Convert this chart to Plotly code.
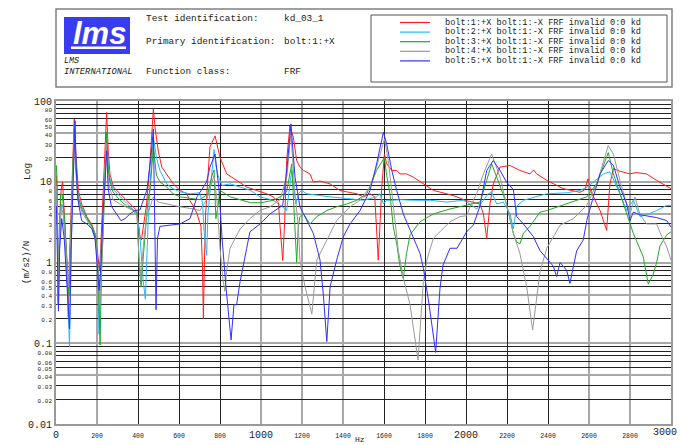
import plotly.graph_objects as go

# ---------------------------------------------------------------- data
series_names = [
    "bolt:1:+X bolt:1:-X FRF invalid 0:0 kd",
    "bolt:2:+X bolt:1:-X FRF invalid 0:0 kd",
    "bolt:3:+X bolt:1:-X FRF invalid 0:0 kd",
    "bolt:4:+X bolt:1:-X FRF invalid 0:0 kd",
    "bolt:5:+X bolt:1:-X FRF invalid 0:0 kd",
]
series_colors = ["#ff1e1e", "#22b8ff", "#22a822", "#9a9a9a", "#3030ff"]

# bolt:1 (Hz, (m/s2)/N)
freq_b1 = [3, 8, 12, 18, 25, 32, 38, 45, 52, 60, 65, 72, 77, 84, 89, 92, 98, 109, 125, 150,
           174, 190, 203, 212, 218, 223, 239, 247, 255, 263, 280, 312, 345, 377, 394, 410, 417,
           426, 442, 459, 475, 483, 499, 516, 540, 572, 605, 638, 654, 670, 688, 707, 714, 719,
           724, 730, 741, 751, 776, 800, 833, 881, 930, 979, 1028, 1060, 1085, 1093, 1106,
           1115, 1125, 1141, 1158, 1174, 1190, 1207, 1239, 1255, 1288, 1337, 1385, 1418, 1467,
           1499, 1532, 1555, 1564, 1572, 1580, 1589, 1602, 1613, 1638, 1662, 1678, 1710, 1743,
           1792, 1841, 1906, 1956, 1995, 2036, 2068, 2085, 2101, 2117, 2133, 2166, 2215, 2263,
           2312, 2330, 2345, 2394, 2475, 2556, 2580, 2595, 2610, 2654, 2686, 2702, 2719, 2751,
           2800, 2830, 2881, 2930, 2979, 3000]
val_b1 = [12, 3, 0.6, 3, 8, 10, 6, 2.5, 1.2, 0.21, 1, 3, 5.9, 20, 60, 35, 18.3, 7.8, 5.3, 3.7,
          3.0, 2.3, 1.3, 0.8, 1.5, 2.8, 30, 72, 24, 12.5, 8.6, 7.1, 5.9, 4.9, 4.4, 2.1, 1.9,
          2.76, 5.3, 18.3, 80, 47, 24, 15.2, 12.5, 9.4, 7.8, 7.1, 5.8, 5.0, 4.0, 2.8, 1.0, 0.2,
          1.0, 4, 11.4, 27, 37, 20, 12.5, 10.4, 8.6, 7.8, 7.1, 6.5, 5.5, 2.8, 1.06,
          3, 18.3, 49, 35.5, 18.3, 15.2, 13.8, 12.5, 9.9, 10.2, 9.4, 7.8, 7.5, 7.1,
          6.5, 7.1, 6.5, 2.76, 1.07, 2.76, 8.6, 22, 16.7, 13.8, 13.8, 12.5, 12.5, 11.4,
          9.4, 7.8, 7.1, 6.5, 5.9, 5.6, 5.3, 4.0, 1.98, 5.3, 9.4, 15.2, 15.9, 13.8,
          12.5, 14, 12.5, 10.4, 8.2, 7.4, 8, 10.9, 7.5, 4.4, 2.5, 9.4, 14.5, 13.5,
          12.5, 13.0, 12.5, 10.4, 8.7, 8.2]

# bolt:2
freq_b2 = [3, 8, 13, 20, 28, 36, 45, 55, 66, 72, 80, 89, 94, 102, 109, 125, 150, 174, 190, 200,
           210, 220, 229, 239, 247, 255, 263, 280, 312, 345, 377, 395, 410, 425, 436, 444, 449,
           459, 475, 490, 507, 540, 571, 605, 654, 700, 715, 722, 735, 741, 751, 771, 780, 790,
           810, 850, 898, 950, 995, 1060, 1100, 1125, 1150, 1160, 1170, 1182, 1198, 1223, 1255,
           1337, 1418, 1499, 1564, 1580, 1597, 1613, 1645, 1678, 1743, 1824, 1906, 1987, 2020,
           2052, 2085, 2109, 2125, 2150, 2182, 2215, 2231, 2247, 2280, 2394, 2491, 2556, 2589,
           2670, 2702, 2751, 2784, 2816, 2849, 2881, 2930, 2979, 3000]
val_b2 = [8, 3, 0.5, 3, 5.3, 4.5, 2, 0.6, 0.09, 1, 8, 52, 25, 9, 6.5, 4.9, 3.5, 2.8, 2.3, 1.3,
          0.13, 1.5, 3, 15, 39, 16, 11, 8, 6.5, 5.4, 4.5, 4.0, 2.0, 0.6, 0.35, 1.5, 3,
          10, 36, 20, 13.8, 9.4, 8.2, 7.5, 7.1, 7.3, 5.5, 2.5, 1.23, 4, 8, 25, 16, 12,
          9.0, 9.4, 8.6, 7.8, 6.5, 5.9, 5.0, 4.4, 13.8, 8, 5.3, 7.1, 7.8, 7.1, 6.9,
          6.5, 6.2, 5.9, 6.5, 7.1, 5.3, 5.9, 5.9, 6.0, 5.9, 5.9, 5.6, 5.9, 5.3,
          4.6, 5.9, 7.1, 7.4, 5.3, 5.6, 4.0, 2.6, 5.0, 5.9, 7.1, 7.3, 7.8, 8.5,
          12.5, 13.3, 7.1, 4.4, 5.9, 3.7, 3.9, 4.4, 5.1, 5.1]

# bolt:3
freq_b3 = [2, 6, 10, 15, 22, 30, 40, 50, 63, 70, 80, 89, 95, 107, 127, 151, 176, 195, 205, 215,
           222, 229, 239, 247, 255, 263, 278, 312, 345, 377, 395, 405, 415, 426, 434, 449, 459,
           475, 490, 507, 540, 571, 605, 654, 702, 740, 761, 771, 780, 790, 800, 850, 898, 950,
           1000, 1060, 1093, 1125, 1150, 1160, 1166, 1174, 1182, 1190, 1207, 1239, 1272, 1321,
           1369, 1418, 1467, 1516, 1564, 1602, 1613, 1629, 1645, 1662, 1678, 1694, 1710, 1727,
           1776, 1841, 1922, 2003, 2068, 2101, 2125, 2150, 2198, 2231, 2247, 2263, 2280, 2312,
           2361, 2394, 2491, 2589, 2638, 2694, 2719, 2751, 2784, 2816, 2865, 2889, 2912, 2930,
           2946, 2979, 3000]
val_b3 = [16, 8, 0.33, 2, 7, 7, 4, 1.5, 0.4, 1.5, 8, 45, 20, 6.5, 4.5, 3.5, 2.8, 2, 0.8, 0.095,
          0.8, 2, 12, 41, 14, 10, 7.5, 5.9, 5.0, 4.4, 4.2, 1.0, 0.5, 1.2, 2, 6, 8,
          27, 12, 10, 8.6, 7.1, 6.5, 6.2, 6.0, 7, 12, 14, 3.5, 5, 7.8, 6.5, 6.0, 5.5,
          5.5, 5.9, 6.5, 7.5, 16.7, 6, 2.3, 1.0, 2.8, 3.7, 4.0, 3.0, 3.7, 4.4,
          4.9, 5.3, 5.9, 7.1, 13.8, 20, 12, 7.1, 2.8, 1.7, 0.9, 0.63, 1.3, 2.2,
          3.2, 4.0, 4.6, 5.1, 5.6, 10.4, 16.7, 11.4, 5.3, 2.3, 1.8, 1.7, 2.3, 2.8,
          4.2, 4.4, 5.3, 6.5, 9.5, 23, 12.5, 7.1, 4.0, 2.3, 1.17, 0.54, 0.7, 1.0,
          1.6, 2.2, 2.4]

# bolt:4
freq_b4 = [2, 6, 10, 15, 24, 35, 48, 60, 70, 80, 89, 95, 107, 127, 151, 176, 195, 205, 215,
           225, 234, 244, 255, 278, 312, 345, 377, 395, 405, 415, 425, 440, 459, 475, 499, 540,
           605, 670, 702, 735, 761, 771, 785, 800, 815, 824, 833, 849, 898, 946, 995, 1044, 1093,
           1127, 1146, 1166, 1182, 1190, 1215, 1248, 1272, 1304, 1337, 1369, 1401, 1434, 1483,
           1532, 1564, 1602, 1621, 1638, 1654, 1670, 1694, 1727, 1766, 1780, 1792, 1810, 1841,
           1873, 1922, 1971, 2003, 2020, 2052, 2085, 2125, 2166, 2198, 2231, 2263, 2296, 2325,
           2345, 2361, 2394, 2459, 2524, 2589, 2638, 2670, 2694, 2719, 2751, 2784, 2800, 2824,
           2849, 2881, 2930, 2955, 2979, 3000]
val_b4 = [9, 5, 0.3, 1.5, 5, 4, 1.5, 0.5, 1.5, 7, 35, 15, 6, 4.2, 3.3, 2.6, 1.8, 0.8, 0.3,
          1.2, 5, 30, 10, 6, 5.3, 4.8, 4.4, 3.8, 1.2, 0.6, 1.5, 3.5, 5, 6.5, 5.6, 5.3,
          4.9, 4.6, 4.4, 6, 10, 12, 6, 1.5, 0.6, 0.44, 0.8, 1.5, 2.6, 3.5, 4.4, 4.9, 6,
          12, 40, 7.1, 2.8, 1.07, 0.5, 0.23, 1.07, 1.56, 2.3, 3.3, 4.0, 4.9, 5.9,
          8.6, 15.2, 34, 18.3, 7.1, 2.8, 1.4, 0.65, 0.3, 0.062, 0.2, 0.58, 1.1, 2.0,
          2.4, 3.2, 3.7, 3.8, 4.9, 7.1, 12.5, 22, 11.4, 5.3, 2.3, 1.29, 0.5, 0.146,
          0.36, 0.77, 1.5, 2.9, 3.5, 5.1, 9.5, 18, 28, 22, 10.4, 5.3, 4.0, 6.5,
          3.9, 3.0, 3.0, 2.1, 1.56, 1.07]

# bolt:5
freq_b5 = [2, 6, 12, 18, 28, 40, 55, 66, 74, 82, 93, 98, 107, 125, 151, 176, 190, 200, 210,
           220, 229, 239, 247, 255, 270, 295, 317, 337, 361, 385, 410, 444, 463, 475, 481, 488,
           495, 507, 556, 605, 654, 688, 735, 751, 776, 795, 810, 829, 854, 868, 881, 898, 930,
           946, 995, 1044, 1106, 1127, 1146, 1166, 1190, 1223, 1255, 1288, 1304, 1321, 1337,
           1369, 1401, 1434, 1483, 1532, 1564, 1597, 1613, 1638, 1662, 1694, 1727, 1776, 1792,
           1820, 1852, 1873, 1888, 1922, 1956, 2003, 2036, 2068, 2101, 2133, 2166, 2198, 2231,
           2247, 2280, 2328, 2361, 2410, 2426, 2442, 2459, 2491, 2507, 2524, 2540, 2572, 2589,
           2621, 2654, 2694, 2719, 2751, 2784, 2800, 2816, 2849, 2881, 2930, 2979, 3000]
val_b5 = [5, 2, 0.25, 1.5, 3.5, 2, 0.5, 0.15, 1.5, 10, 57, 15, 6, 3.3, 3.0, 2.6, 2.0, 1.0, 0.45,
          1.0, 4, 10, 24, 8, 5, 4.0, 3.3, 3.5, 4.0, 4.4, 4.5, 8, 20, 45, 5, 0.26,
          2, 2.8, 2.9, 3.0, 3.5, 6.5, 10, 15.2, 22, 8, 2, 0.5, 0.11, 0.3, 0.3, 0.58, 1.49,
          2.4, 3.0, 4.0, 5.1, 15, 52, 11.4, 4.9, 3.3, 2.3, 1.07, 0.4, 0.105, 0.5,
          1.07, 2.07, 3.0, 4.4, 7.8, 16.7, 41, 29.5, 13.8, 7.8, 4.0, 2.5, 1.29, 0.85,
          0.3, 0.077, 0.48, 0.93, 1.5, 1.5, 2.4, 2.9, 5, 13.8, 18.3, 13.8, 9.9, 8,
          3.7, 3.0, 2.1, 1.4, 1.0, 0.9, 0.67, 1.0, 0.8, 0.55, 0.9, 1.4, 1.9, 3.3,
          6.5, 12.5, 18.3, 15.9, 8.6, 5.3, 3.3, 4.2, 3.9, 3.8, 3.6, 3.3, 2.75]

series_freq = [freq_b1, freq_b2, freq_b3, freq_b4, freq_b5]
series_vals = [val_b1, val_b2, val_b3, val_b4, val_b5]

# axis ticks
x_ticks = list(range(0, 3001, 200))
x_labels = [str(v) for v in x_ticks]
x_big = {"0", "1000", "2000", "3000"}

y_ticks = [0.01, 0.02, 0.03, 0.04, 0.05, 0.06, 0.08,
           0.1, 0.2, 0.3, 0.4, 0.5, 0.6, 0.8,
           1, 2, 3, 4, 5, 6, 8,
           10, 20, 30, 40, 50, 60, 80, 100]
y_labels = ["0.01", "0.02", "0.03", "0.04", "0.05", "0.06", "0.08",
            "0.1", "0.2", "0.3", "0.4", "0.5", "0.6", "0.8",
            "1", "2", "3", "4", "5", "6", "8",
            "10", "20", "30", "40", "50", "60", "80", "100"]
y_big = {"0.01", "0.1", "1", "10", "100"}

header_rows = [("Test identification:", "kd_03_1"),
               ("Primary identification:", "bolt:1:+X"),
               ("Function class:", "FRF")]

# ---------------------------------------------------------------- layout helpers
W, H = 680, 445
ML, MR, MT, MB = 56, 9, 101, 21
PW, PH = W - ML - MR, H - MT - MB
MONO = "Liberation Mono"


def px(x):
    return (x - ML) / PW


def py(y):
    return (H - MB - y) / PH


def small(text, size):
    return f'<span style="font-size:{size}px">{text}</span>'


def note(x, y, text, size, anchor="left", **kw):
    return dict(x=px(x), y=py(y), xref="paper", yref="paper", showarrow=False,
                text=text, xanchor=anchor, yanchor="middle", borderpad=0,
                font=dict(family=kw.pop("family", MONO), size=size,
                          color=kw.pop("color", "#222")), **kw)


fig = go.Figure()

for name, col, fx, fv in zip(series_names, series_colors, series_freq, series_vals):
    fig.add_trace(go.Scatter(x=fx, y=fv, mode="lines", name=name,
                             line=dict(color=col, width=1), showlegend=False))

# empty traces that carry the grid axes and the end-of-axis label
fig.add_trace(go.Scatter(x=[], y=[], xaxis="x2", yaxis="y2", showlegend=False))
fig.add_trace(go.Scatter(x=[], y=[], xaxis="x3", yaxis="y", showlegend=False))

grid_black_y = [m * 10.0 ** e for e in range(-2, 2) for m in (2, 3, 5, 6, 7, 8, 9)]
grid_gray_y = [m * 10.0 ** e for e in range(-2, 3) for m in (1, 4)]
grid_gray_x = [0, 200, 1000, 1200, 1400, 2600, 2800, 3000]
grid_black_x = [v for v in x_ticks if v not in grid_gray_x]

label_font = dict(family=MONO, size=10, color="#222")

fig.update_layout(
    width=W, height=H,
    margin=dict(l=ML, r=MR, t=MT, b=MB, autoexpand=False),
    paper_bgcolor="white", plot_bgcolor="white",
    showlegend=False,
    xaxis=dict(range=[0, 3000], tickmode="array", tickvals=x_ticks[:-1],
               ticktext=[t if t in x_big else small(t, 6.5) for t in x_labels[:-1]],
               tickfont=label_font, automargin=False,
               ticks="", showgrid=False, zeroline=False,
               showline=True, mirror=True, linecolor="#9a9a9a", linewidth=2),
    # the last x label sits on its own axis so it can be nudged inside the page
    xaxis3=dict(overlaying="x", anchor="y", range=[0, 3000], tickmode="array",
                tickvals=x_ticks[-1:], ticktext=x_labels[-1:], tickfont=label_font,
                ticklabelshift=-6, ticklabeloverflow="allow", automargin=False,
                ticks="", showgrid=False, zeroline=False, showline=False),
    yaxis=dict(type="log", range=[-2, 2], tickmode="array", tickvals=y_ticks,
               ticktext=[t if t in y_big else small(t, 6) for t in y_labels],
               tickfont=label_font, ticklabeloverflow="allow", automargin=False,
               ticks="", showgrid=False, zeroline=False,
               showline=True, mirror=True, linecolor="#9a9a9a", linewidth=2),
    xaxis2=dict(overlaying="x", anchor="y2", range=[0, 3000], tickmode="array",
                tickvals=grid_black_x, showticklabels=False, ticks="", automargin=False,
                showgrid=True, gridcolor="#222", gridwidth=1, zeroline=False,
                minor=dict(tickmode="array", tickvals=grid_gray_x, showgrid=True,
                           gridcolor="#a8a8a8", gridwidth=2, ticks="")),
    yaxis2=dict(overlaying="y", anchor="x2", type="log", range=[-2, 2], tickmode="array",
                tickvals=grid_black_y, showticklabels=False, ticks="", automargin=False,
                showgrid=True, gridcolor="#222", gridwidth=1, zeroline=False,
                minor=dict(tickmode="array", tickvals=grid_gray_y, showgrid=True,
                           gridcolor="#a8a8a8", gridwidth=2, ticks="")),
)

shapes = []
ann = []

# header frame and legend frame
shapes.append(dict(type="rect", xref="paper", yref="paper", x0=px(56), x1=px(672),
                   y0=py(87), y1=py(9), line=dict(color="#808080", width=1.5)))
shapes.append(dict(type="rect", xref="paper", yref="paper", x0=px(371), x1=px(667),
                   y0=py(82), y1=py(15), line=dict(color="#555", width=1)))

# logo block
shapes.append(dict(type="rect", xref="paper", yref="paper", x0=px(64), x1=px(130),
                   y0=py(54), y1=py(17), fillcolor="#3a3cf0", line=dict(width=0)))
shapes.append(dict(type="rect", xref="paper", yref="paper", x0=px(71), x1=px(126),
                   y0=py(49), y1=py(46.5), fillcolor="white", line=dict(width=0)))
ann.append(note(99, 33, "<b><i>lms</i></b>", 31, anchor="center",
                family="Liberation Sans", color="white"))
ann.append(note(63, 61.5, "<i>LMS</i>", 8.4))
ann.append(note(63, 71.5, "<i>INTERNATIONAL</i>", 8.8))

for (lab, val), yy in zip(header_rows, (19, 42, 71.5)):
    ann.append(note(145, yy, lab, 9.4))
    ann.append(note(283, yy, val, 9.4))

# legend rows
for i, (name, col) in enumerate(zip(series_names, series_colors)):
    yy = 22.5 + i * 9.6
    shapes.append(dict(type="line", xref="paper", yref="paper", x0=px(400), x1=px(430),
                       y0=py(yy), y1=py(yy), line=dict(color=col, width=1.2)))
    ann.append(note(444, yy, name, 8.6))

# axis titles
ann.append(note(27, 172, "Log", 9.5, anchor="center", textangle=-90))
ann.append(note(27, 263, "(m/s2)/N", 9, anchor="center", textangle=-90))
ann.append(note(360, 439, "Hz", 8, anchor="center"))

fig.update_layout(shapes=shapes, annotations=ann)
fig.write_html("out.html")
